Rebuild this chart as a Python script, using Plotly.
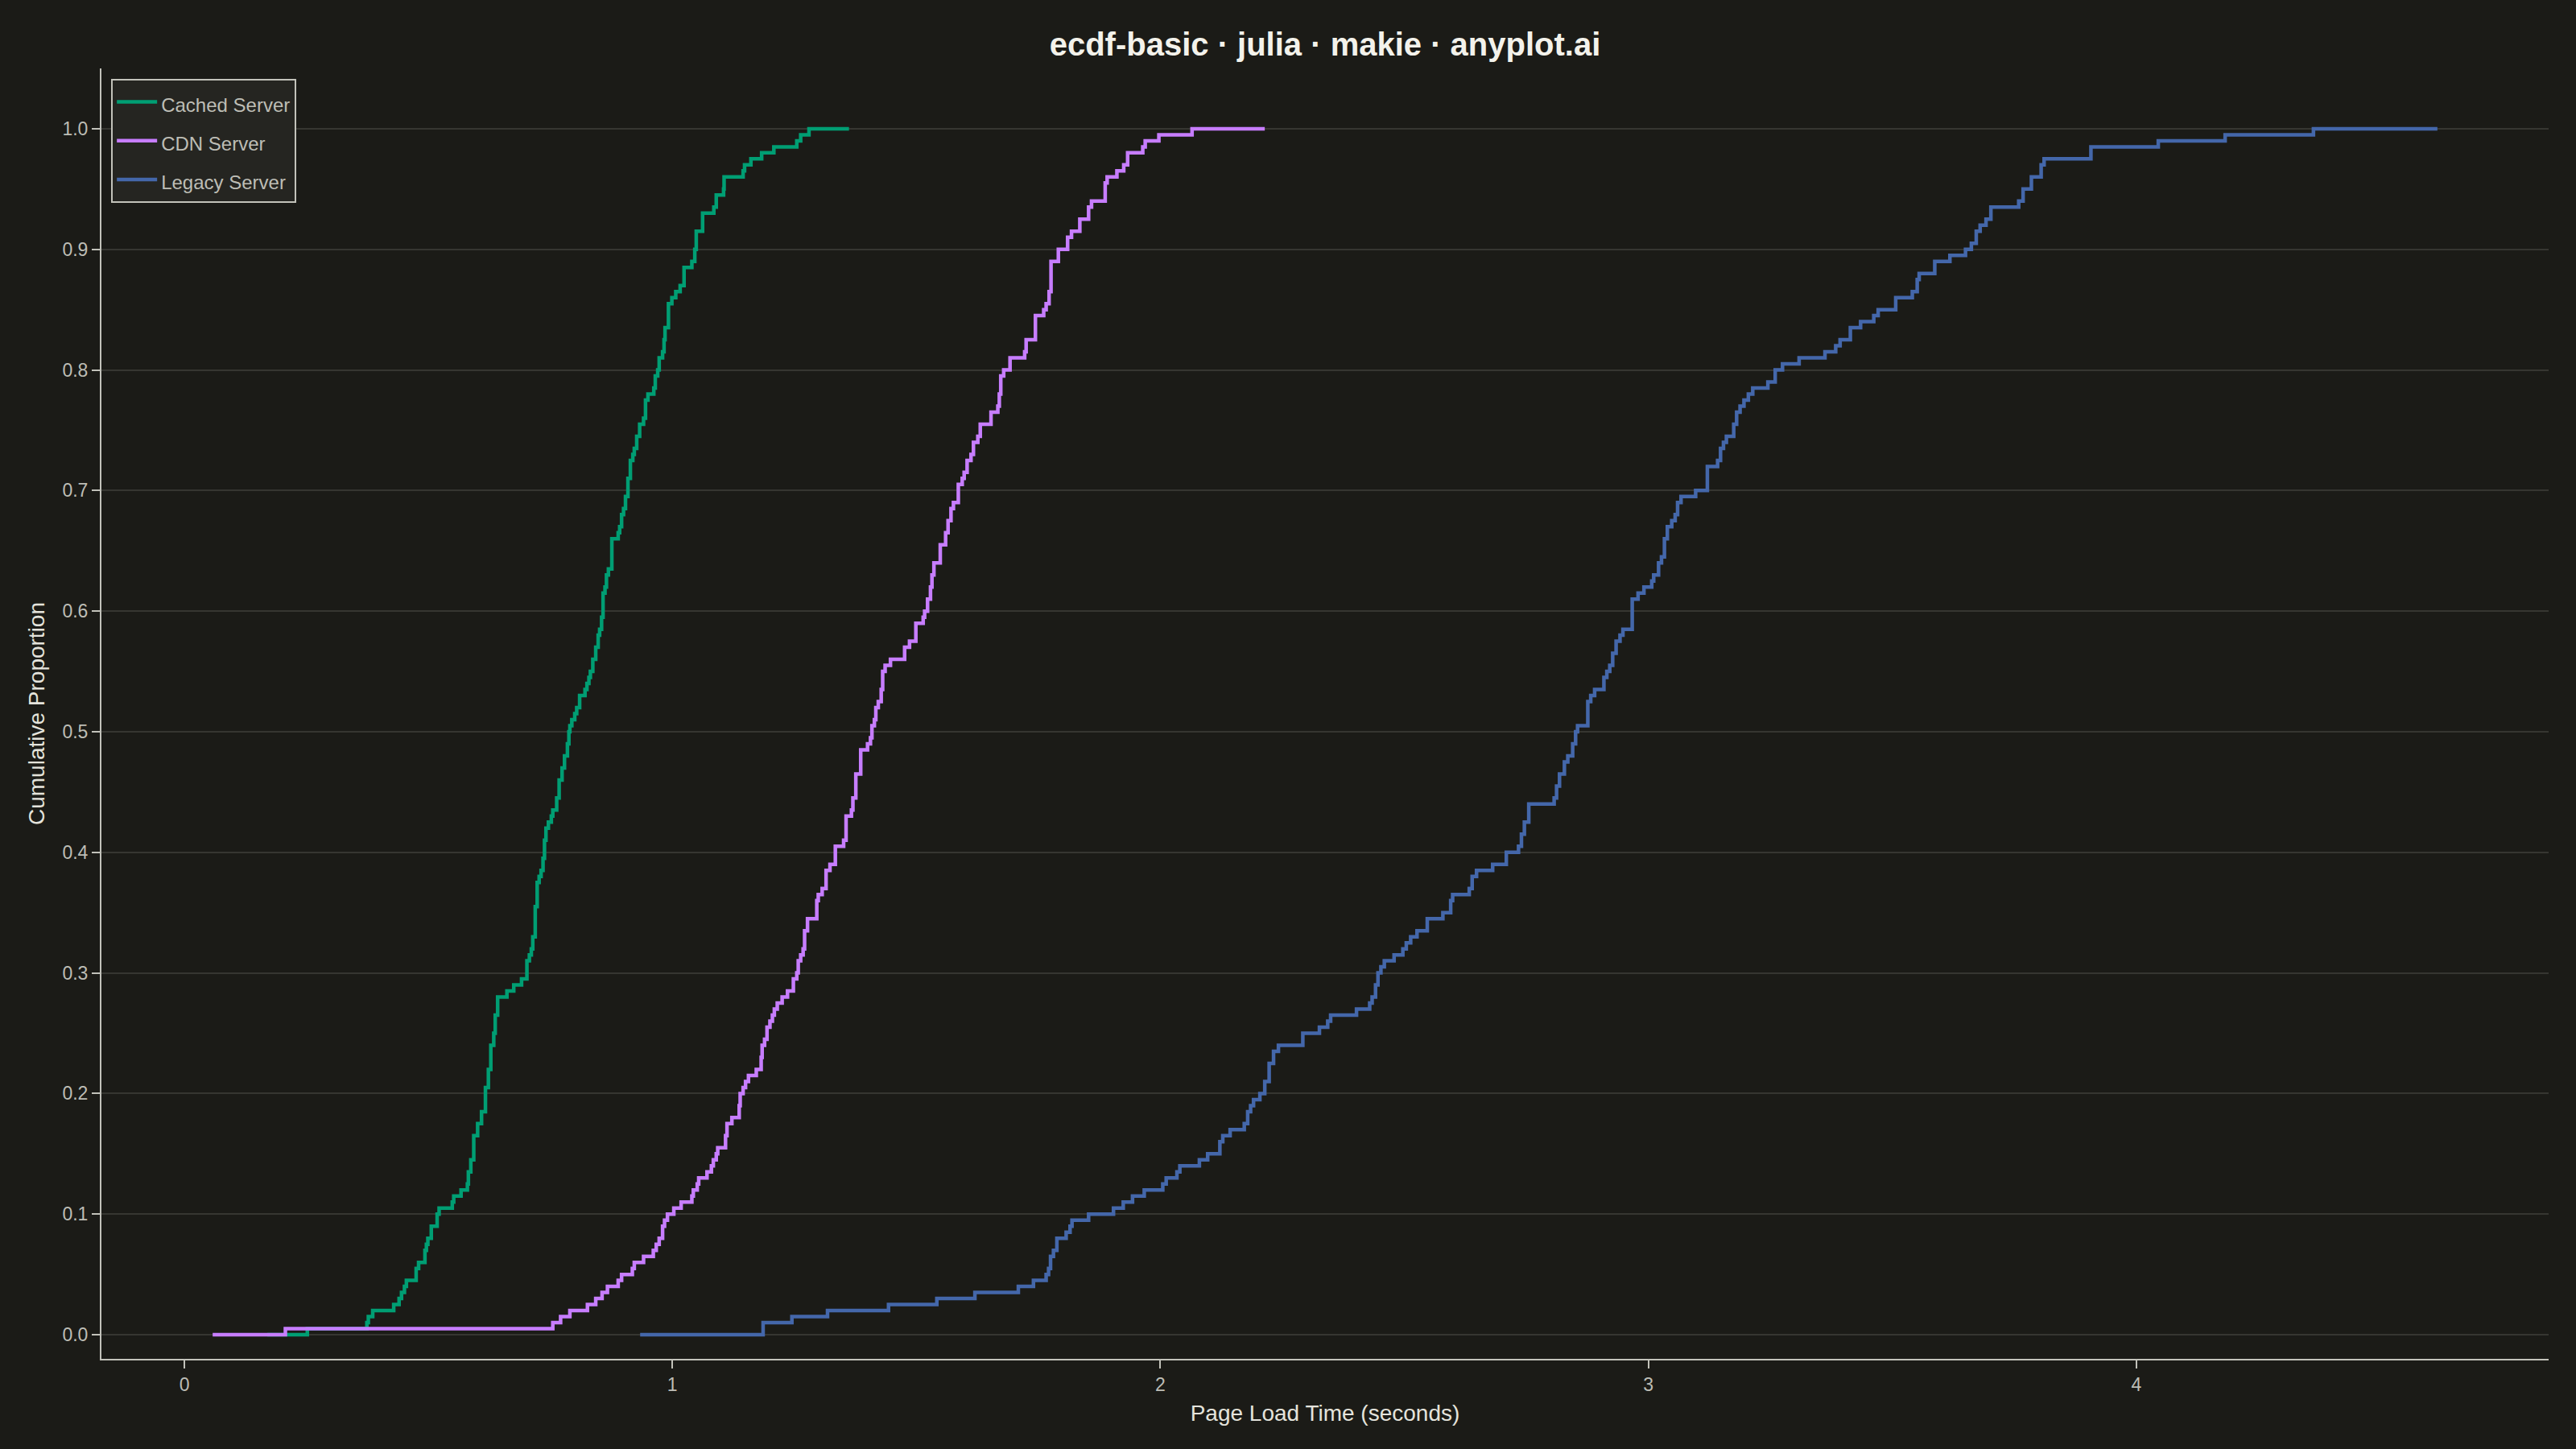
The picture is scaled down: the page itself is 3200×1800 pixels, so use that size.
import plotly.graph_objects as go

# ---------------- data (ECDF step vertices) ----------------
series_names = ["Cached Server", "CDN Server", "Legacy Server"]
series_colors = ["#009E73", "#C77DFF", "#4467AA"]

# Page load time (s) at which each step occurs, and the cumulative proportion after it
cached_x = [0.170, 0.252, 0.374, 0.377, 0.386, 0.429, 0.440, 0.445, 0.451, 0.455,
            0.475, 0.480, 0.493, 0.496, 0.499, 0.506, 0.518, 0.522, 0.549, 0.552,
            0.567, 0.580, 0.582, 0.587, 0.593, 0.601, 0.609, 0.617, 0.623, 0.628,
            0.634, 0.637, 0.642, 0.661, 0.675, 0.691, 0.702, 0.707, 0.711, 0.714,
            0.719, 0.723, 0.727, 0.731, 0.735, 0.738, 0.741, 0.746, 0.752, 0.755,
            0.763, 0.768, 0.774, 0.779, 0.785, 0.788, 0.790, 0.794, 0.800, 0.804,
            0.810, 0.821, 0.825, 0.829, 0.832, 0.837, 0.843, 0.848, 0.851, 0.855,
            0.858, 0.862, 0.865, 0.869, 0.876, 0.889, 0.892, 0.896, 0.900, 0.904,
            0.909, 0.914, 0.919, 0.922, 0.927, 0.933, 0.941, 0.945, 0.950, 0.962,
            0.965, 0.970, 0.973, 0.980, 0.983, 0.985, 0.992, 0.999, 1.007, 1.016,
            1.024, 1.040, 1.046, 1.049, 1.062, 1.085, 1.090, 1.105, 1.106, 1.145,
            1.148, 1.161, 1.183, 1.208, 1.255, 1.263, 1.280, 1.362]
cached_y = [0.000, 0.005, 0.010, 0.015, 0.020, 0.025, 0.030, 0.035, 0.040, 0.045,
            0.055, 0.060, 0.070, 0.075, 0.080, 0.090, 0.100, 0.105, 0.110, 0.115,
            0.120, 0.125, 0.135, 0.145, 0.165, 0.175, 0.185, 0.205, 0.220, 0.240,
            0.250, 0.265, 0.280, 0.285, 0.290, 0.295, 0.310, 0.315, 0.320, 0.330,
            0.355, 0.375, 0.380, 0.385, 0.395, 0.410, 0.420, 0.425, 0.430, 0.435,
            0.445, 0.460, 0.470, 0.480, 0.490, 0.500, 0.505, 0.510, 0.515, 0.520,
            0.530, 0.535, 0.540, 0.545, 0.550, 0.560, 0.570, 0.580, 0.585, 0.595,
            0.615, 0.620, 0.630, 0.635, 0.660, 0.665, 0.670, 0.680, 0.685, 0.695,
            0.710, 0.725, 0.730, 0.735, 0.745, 0.755, 0.760, 0.775, 0.780, 0.785,
            0.795, 0.800, 0.810, 0.815, 0.825, 0.835, 0.855, 0.860, 0.865, 0.870,
            0.885, 0.890, 0.900, 0.915, 0.930, 0.935, 0.945, 0.950, 0.960, 0.965,
            0.970, 0.975, 0.980, 0.985, 0.990, 0.995, 1.000, 1.000]

cdn_x = [0.058, 0.207, 0.755, 0.771, 0.790, 0.826, 0.843, 0.856, 0.867, 0.889,
         0.896, 0.918, 0.922, 0.941, 0.961, 0.967, 0.973, 0.980, 0.984, 0.990,
         1.003, 1.018, 1.040, 1.043, 1.051, 1.054, 1.071, 1.080, 1.084, 1.090,
         1.093, 1.109, 1.112, 1.122, 1.137, 1.139, 1.145, 1.150, 1.156, 1.172,
         1.182, 1.184, 1.189, 1.194, 1.200, 1.205, 1.209, 1.215, 1.225, 1.236,
         1.248, 1.255, 1.258, 1.263, 1.268, 1.271, 1.277, 1.296, 1.299, 1.307,
         1.315, 1.323, 1.334, 1.351, 1.356, 1.367, 1.370, 1.376, 1.386, 1.400,
         1.406, 1.409, 1.414, 1.417, 1.422, 1.428, 1.431, 1.436, 1.447, 1.476,
         1.486, 1.499, 1.514, 1.517, 1.523, 1.529, 1.532, 1.536, 1.549, 1.560,
         1.565, 1.571, 1.576, 1.586, 1.594, 1.598, 1.604, 1.612, 1.617, 1.626,
         1.631, 1.653, 1.667, 1.670, 1.673, 1.679, 1.692, 1.722, 1.725, 1.744,
         1.761, 1.766, 1.772, 1.776, 1.791, 1.810, 1.818, 1.835, 1.853, 1.859,
         1.887, 1.891, 1.911, 1.925, 1.933, 1.964, 1.969, 1.997, 2.065, 2.214]
cdn_y = [0.000, 0.005, 0.010, 0.015, 0.020, 0.025, 0.030, 0.035, 0.040, 0.045,
         0.050, 0.055, 0.060, 0.065, 0.070, 0.075, 0.080, 0.090, 0.095, 0.100,
         0.105, 0.110, 0.115, 0.120, 0.125, 0.130, 0.135, 0.140, 0.145, 0.150,
         0.155, 0.165, 0.175, 0.180, 0.190, 0.200, 0.205, 0.210, 0.215, 0.220,
         0.230, 0.240, 0.245, 0.255, 0.260, 0.265, 0.270, 0.275, 0.280, 0.285,
         0.295, 0.300, 0.310, 0.315, 0.320, 0.335, 0.345, 0.360, 0.365, 0.370,
         0.385, 0.390, 0.405, 0.410, 0.430, 0.435, 0.445, 0.465, 0.485, 0.490,
         0.495, 0.505, 0.510, 0.520, 0.525, 0.535, 0.550, 0.555, 0.560, 0.570,
         0.575, 0.590, 0.595, 0.600, 0.610, 0.620, 0.630, 0.640, 0.655, 0.665,
         0.675, 0.685, 0.690, 0.705, 0.710, 0.715, 0.725, 0.730, 0.740, 0.745,
         0.755, 0.765, 0.770, 0.780, 0.795, 0.800, 0.810, 0.815, 0.825, 0.845,
         0.850, 0.855, 0.865, 0.890, 0.900, 0.910, 0.915, 0.925, 0.935, 0.940,
         0.955, 0.960, 0.965, 0.970, 0.980, 0.985, 0.990, 0.995, 1.000, 1.000]

legacy_x = [0.934, 1.186, 1.245, 1.318, 1.443, 1.542, 1.620, 1.709, 1.740, 1.766,
            1.771, 1.775, 1.781, 1.788, 1.807, 1.815, 1.819, 1.853, 1.904, 1.924,
            1.943, 1.967, 2.005, 2.012, 2.034, 2.040, 2.080, 2.097, 2.122, 2.128,
            2.143, 2.172, 2.179, 2.185, 2.191, 2.204, 2.214, 2.223, 2.232, 2.242,
            2.292, 2.326, 2.343, 2.349, 2.402, 2.429, 2.434, 2.441, 2.446, 2.452,
            2.459, 2.479, 2.497, 2.504, 2.513, 2.526, 2.547, 2.579, 2.595, 2.599,
            2.633, 2.639, 2.648, 2.681, 2.709, 2.734, 2.740, 2.746, 2.755, 2.807,
            2.812, 2.818, 2.828, 2.835, 2.845, 2.851, 2.855, 2.876, 2.882, 2.890,
            2.909, 2.915, 2.921, 2.927, 2.934, 2.942, 2.948, 2.967, 2.979, 2.991,
            3.007, 3.011, 3.021, 3.027, 3.033, 3.039, 3.048, 3.055, 3.060, 3.067,
            3.097, 3.121, 3.142, 3.148, 3.154, 3.160, 3.175, 3.181, 3.188, 3.196,
            3.205, 3.214, 3.245, 3.260, 3.275, 3.309, 3.362, 3.384, 3.393, 3.414,
            3.435, 3.462, 3.471, 3.507, 3.541, 3.551, 3.555, 3.587, 3.618, 3.650,
            3.662, 3.672, 3.680, 3.692, 3.702, 3.759, 3.768, 3.785, 3.805, 3.811,
            3.907, 4.045, 4.182, 4.363, 4.617]
legacy_y = [0.000, 0.010, 0.015, 0.020, 0.025, 0.030, 0.035, 0.040, 0.045, 0.050,
            0.055, 0.065, 0.070, 0.080, 0.085, 0.090, 0.095, 0.100, 0.105, 0.110,
            0.115, 0.120, 0.125, 0.130, 0.135, 0.140, 0.145, 0.150, 0.160, 0.165,
            0.170, 0.175, 0.185, 0.190, 0.195, 0.200, 0.210, 0.225, 0.235, 0.240,
            0.250, 0.255, 0.260, 0.265, 0.270, 0.275, 0.280, 0.290, 0.300, 0.305,
            0.310, 0.315, 0.320, 0.325, 0.330, 0.335, 0.345, 0.350, 0.360, 0.365,
            0.370, 0.380, 0.385, 0.390, 0.400, 0.405, 0.415, 0.425, 0.440, 0.445,
            0.455, 0.465, 0.475, 0.480, 0.490, 0.500, 0.505, 0.525, 0.530, 0.535,
            0.545, 0.550, 0.555, 0.565, 0.575, 0.580, 0.585, 0.610, 0.615, 0.620,
            0.625, 0.630, 0.640, 0.645, 0.660, 0.670, 0.675, 0.680, 0.690, 0.695,
            0.700, 0.720, 0.725, 0.735, 0.740, 0.745, 0.755, 0.765, 0.770, 0.775,
            0.780, 0.785, 0.790, 0.800, 0.805, 0.810, 0.815, 0.820, 0.825, 0.835,
            0.840, 0.845, 0.850, 0.860, 0.865, 0.875, 0.880, 0.890, 0.895, 0.900,
            0.905, 0.915, 0.920, 0.925, 0.935, 0.940, 0.950, 0.960, 0.970, 0.975,
            0.985, 0.990, 0.995, 1.000, 1.000]

x_ticks = [0, 1, 2, 3, 4]
y_ticks = [0.0, 0.1, 0.2, 0.3, 0.4, 0.5, 0.6, 0.7, 0.8, 0.9, 1.0]

title_text = "ecdf-basic · julia · makie · anyplot.ai"
x_label = "Page Load Time (seconds)"
y_label = "Cumulative Proportion"

# ---------------- styling ----------------
BG = "#1B1B17"
GRID = "#363631"
AXIS = "#C2C2BA"
TICK_TXT = "#BDBDB5"
LABEL_TXT = "#E4E3DC"
TITLE_TXT = "#F3F2EB"
FONT = "Liberation Sans, Arial, Helvetica, sans-serif"

xs = [cached_x, cdn_x, legacy_x]
ys = [cached_y, cdn_y, legacy_y]

fig = go.Figure()
for name, color, x, y in zip(series_names, series_colors, xs, ys):
    fig.add_trace(go.Scatter(
        x=x, y=y, mode="lines",
        name=f'<span style="font-size:24px">{name}</span>',
        legendgroup=name,
        line=dict(color=color, width=4.5, shape="hv"),
        hoverinfo="skip",
    ))

all_x = cached_x + cdn_x + legacy_x
x_lo, x_hi = min(all_x), max(all_x)
pad = 0.05 * (x_hi - x_lo)

fig.update_layout(
    width=3200, height=1800,
    paper_bgcolor=BG, plot_bgcolor=BG,
    margin=dict(l=126, r=34, t=85, b=112, pad=0),
    font=dict(family=FONT, color=TICK_TXT, size=23),
    title=dict(
        text=title_text, x=0.5, xref="paper", xanchor="center",
        y=1 - 55 / 1800, yref="container", yanchor="middle",
        font=dict(family=FONT, size=40, color=TITLE_TXT, weight="bold"),
    ),
    showlegend=True,
    legend=dict(
        x=0.004, y=0.992, xref="paper", yref="paper",
        xanchor="left", yanchor="top",
        bgcolor="#252521", bordercolor=AXIS, borderwidth=2,
        font=dict(family=FONT, size=31, color="#BDBDB5"),
        traceorder="grouped", tracegroupgap=5,
        itemwidth=50,
    ),
    xaxis=dict(
        range=[x_lo - pad, x_hi + pad],
        tickmode="array", tickvals=x_ticks, ticktext=[str(t) for t in x_ticks],
        showgrid=False, zeroline=False,
        showline=True, linecolor=AXIS, linewidth=2, mirror=False,
        ticks="outside", ticklen=10, tickwidth=2, tickcolor=AXIS,
        tickfont=dict(family=FONT, size=23, color=TICK_TXT),
        title=dict(text=x_label, standoff=14,
                   font=dict(family=FONT, size=28, color=LABEL_TXT)),
    ),
    yaxis=dict(
        range=[-0.02, 1.05],
        tickmode="array", tickvals=y_ticks, ticktext=[f"{t:.1f}" for t in y_ticks],
        showgrid=True, gridcolor=GRID, gridwidth=2,
        zeroline=False,
        showline=True, linecolor=AXIS, linewidth=2, mirror=False,
        ticks="outside", ticklen=10, tickwidth=2, tickcolor=AXIS,
        tickfont=dict(family=FONT, size=23, color=TICK_TXT),
        title=dict(text=y_label, standoff=14,
                   font=dict(family=FONT, size=28, color=LABEL_TXT)),
    ),
)

fig.write_html(
    "out.html",
    include_plotlyjs=True,
    config={"displayModeBar": False, "responsive": False},
    post_script="document.body.style.margin='0';document.body.style.overflow='hidden';",
)
